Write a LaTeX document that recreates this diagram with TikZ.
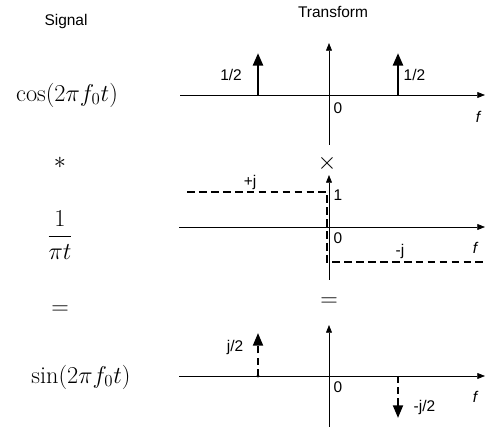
\documentclass[tikz,border=0pt]{standalone}
\usepackage{amsmath}
\usepackage{fontspec}
\setsansfont{Liberation Sans}
\usetikzlibrary{arrows.meta, positioning}

\begin{document}
\begin{tikzpicture}[
  lbl/.style={font=\sffamily\fontsize{11}{13}\selectfont,inner sep=1pt},
  sig/.style={font=\LARGE,inner sep=1pt},
  ax/.style={-{Triangle[length=5.5pt,width=4.2pt]},line width=0.5pt},
  imp/.style={-{Triangle[length=9pt,width=7pt]},line width=2pt},
  dimp/.style={imp,line width=1.6pt,dash pattern=on 5pt off 3pt},
  sgn/.style={line width=1.7pt,dash pattern=on 5.5pt off 3pt}
]
\useasboundingbox (0,0) rectangle (12.125,10.75);

% column titles and signals
\node[lbl] (sigttl) at (1.65,10.2)  {Signal};
\node[lbl] (trfttl) at (8.325,10.45) {Transform};
\node[sig] (cosx) at (1.675,8.375) {$\cos(2\pi f_0 t)$};
\node[sig] (conv) at (1.5,6.675)   {$*$};
\node[sig] (hilb) at (1.5,4.875)   {$\dfrac{1}{\pi t}$};
\node[sig] (eqa)  at (1.5,3.0)     {$=$};
\node[sig] (sinx) at (2.025,1.325) {$\sin(2\pi f_0 t)$};

% spectrum of the cosine
\coordinate (c-l) at (4.5,8.375);   \coordinate (c-r) at (12.125,8.375);
\coordinate (c-b) at (8.225,7.125); \coordinate (c-t) at (8.225,9.675);
\coordinate (c-p1) at (6.45,8.375); \coordinate (c-p2) at (9.95,8.375);
\coordinate (c-q1) at (6.45,9.425); \coordinate (c-q2) at (9.95,9.425);
\draw[ax] (c-l) -- (c-r);
\draw[ax] (c-b) -- (c-t);
\draw[imp] (c-p1) -- (c-q1);
\draw[imp] (c-p2) -- (c-q2);
\node[lbl] (c-h1) at (5.775,8.875) {1/2};
\node[lbl,anchor=west] (c-h2) at (10.05,8.875) {1/2};
\node[lbl] (c-z) at (8.45,8.05) {0};
\node[lbl] (c-f) at (11.95,7.825) {\itshape f};

% spectrum of 1/(pi t)
\node[sig] (times) at (8.175,6.675) {$\times$};
\coordinate (h-l) at (4.475,5.075); \coordinate (h-r) at (12.125,5.075);
\coordinate (h-b) at (8.225,3.75);  \coordinate (h-t) at (8.225,6.375);
\draw[ax] (h-l) -- (h-r);
\draw[ax] (h-b) -- (h-t);
\coordinate (h-a) at (4.675,5.95); \coordinate (h-c) at (8.18,5.95);
\coordinate (h-d) at (8.18,4.2);   \coordinate (h-e) at (12.125,4.2);
\draw[sgn] (h-a) -- (h-c) -- (h-d) -- (h-e);
\node[lbl] (h-pj) at (6.25,6.175) {+j};
\node[lbl] (h-one) at (8.45,5.875) {1};
\node[lbl] (h-z) at (8.45,4.8) {0};
\node[lbl] (h-f) at (11.875,4.55) {\itshape f};
\node[lbl] (h-mj) at (10.0,4.45) {-j};

% spectrum of the sine
\node[sig] (eqb) at (8.225,3.2) {$=$};
\coordinate (s-l) at (4.475,1.35); \coordinate (s-r) at (12.125,1.35);
\coordinate (s-b) at (8.225,0.075); \coordinate (s-t) at (8.225,2.625);
\draw[ax] (s-l) -- (s-r);
\draw[ax] (s-b) -- (s-t);
\coordinate (s-p1) at (6.45,1.35); \coordinate (s-q1) at (6.45,2.425);
\coordinate (s-p2) at (9.95,1.35); \coordinate (s-q2) at (9.95,0.3);
\fill (s-p1) circle (1.2pt);
\draw[dimp] (s-p1) -- (s-q1);
\draw[dimp] (s-p2) -- (s-q2);
\node[lbl] (s-h1) at (5.875,2.05) {j/2};
\node[lbl,anchor=west] (s-h2) at (10.3,0.55) {-j/2};
\node[lbl] (s-z) at (8.45,1.075) {0};
\node[lbl] (s-f) at (11.875,0.825) {\itshape f};
\end{tikzpicture}
\end{document}
